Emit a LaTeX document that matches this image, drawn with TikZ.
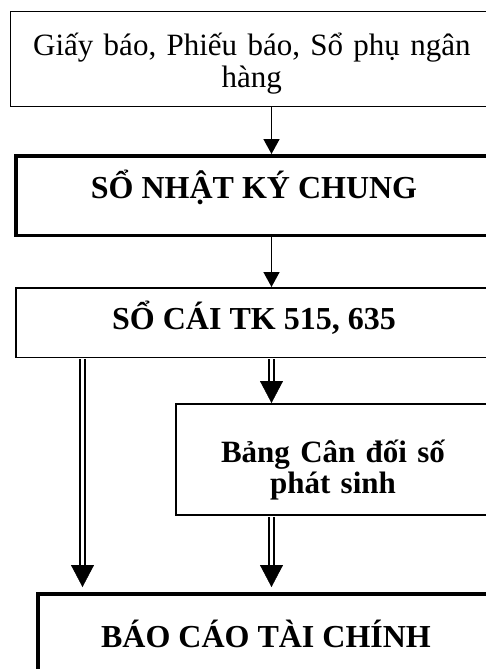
\documentclass[tikz,border=0pt]{standalone}
\usepackage{fontspec}
\setmainfont{Liberation Serif}
\usetikzlibrary{arrows.meta}
\begin{document}
\begin{tikzpicture}[x=1pt,y=-1pt,
  box/.style={draw=black, inner sep=0pt, align=center, font=\fontsize{31}{32.5}\selectfont},
  bold/.style={font=\fontsize{32}{31.5}\selectfont\bfseries},
  boldsmall/.style={font=\fontsize{31}{31}\selectfont\bfseries},
  thinframe/.style={line width=1.5pt},
  midframe/.style={line width=2pt},
  heavyframe/.style={line width=3.5pt},
  arr/.style={line width=1.6pt, -{Triangle[length=15pt,width=16pt]}},
  dblarr/.style={draw=white, line width=0.4pt, shorten <=0.8pt, shorten >=#1,
    -{Triangle[length=22pt,width=23pt,color=black]},
    preaction={draw=black, double=white, double distance=2.5pt, line width=1.9pt, -,
      shorten >=#1+20pt}},
  dblarr/.default=0pt]
  \useasboundingbox (0,0) rectangle (486,669);
  \clip (0,0) rectangle (486,669);

  % columns of the connectors
  \coordinate (mid) at (271.5,0);
  \coordinate (lft) at (82.5,0);

  % boxes
  \node[box, thinframe, minimum width=482.3pt, minimum height=94.6pt,
        text width=470pt, text height=33pt, text depth=40pt]
    (src) at (251.85,59) {Giấy báo, Phiếu báo, Sổ phụ ngân\\hàng};
  \node[box, bold, heavyframe, minimum width=476.5pt, minimum height=79.5pt,
        text height=20pt, text depth=15pt]
    (nkc) at (254,195.5) {SỔ NHẬT KÝ CHUNG};
  \node[box, bold, thinframe, minimum width=476.5pt, minimum height=69.5pt,
        text height=22pt, text depth=9pt]
    (socai) at (254,322.5) {SỔ CÁI TK 515, 635};
  \node[box, boldsmall, midframe, minimum width=314pt, minimum height=111pt,
        text width=300pt, text height=45pt, text depth=40pt]
    (bcd) at (333,459.5) {Bảng Cân đối số\\phát sinh};
  \node[box, bold, heavyframe, minimum width=456.5pt, minimum height=106.5pt,
        text height=20pt, text depth=20pt]
    (bctc) at (266,647) {BÁO CÁO TÀI CHÍNH};

  % connectors
  \draw[arr] (src.south -| mid) -- (nkc.north -| mid);
  \draw[arr] (nkc.south -| mid) -- (socai.north -| mid);
  \draw[dblarr=0pt] (socai.south -| mid) -- (bcd.north -| mid);
  \draw[dblarr=5pt] (socai.south -| lft) -- (bctc.north -| lft);
  \draw[dblarr=5pt] (bcd.south -| mid) -- (bctc.north -| mid);
\end{tikzpicture}
\end{document}
